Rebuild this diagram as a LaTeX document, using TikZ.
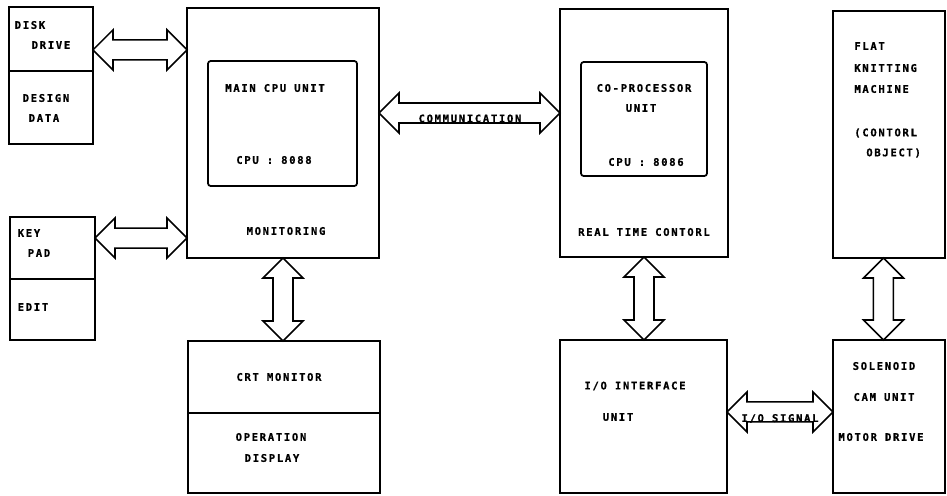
\documentclass[tikz,border=0pt]{standalone}
\usepackage{fontspec}
\usetikzlibrary{positioning,calc}
\newfontfamily\dotfont[LetterSpace=16,FakeBold=0.8]{DejaVu Sans Mono}

\tikzset{
  box/.style={draw, line width=1pt, outer sep=0pt, inner sep=0pt},
  unit/.style={box, rounded corners=1.5pt},
  lbl/.style={font=\dotfont\bfseries\fontsize{6}{7}\selectfont, inner sep=0pt},
  bus/.style={draw, line width=0.9pt, line join=miter, fill=white}
}

% wide double-headed bus, left tip to right tip
\newcommand{\hbus}[2]{%
  \draw[bus] (#1) -- ++(0.4cm,0.4cm) -- ++(0,-0.2cm) -- ($(#2)+(-0.4cm,0.2cm)$)
    -- ++(0,0.2cm) -- (#2) -- ++(-0.4cm,-0.4cm) -- ++(0,0.2cm)
    -- ($(#1)+(0.4cm,-0.2cm)$) -- ++(0,-0.2cm) -- cycle;}
% same, top tip to bottom tip
\newcommand{\vbus}[2]{%
  \draw[bus] (#1) -- ++(0.4cm,-0.4cm) -- ++(-0.2cm,0) -- ($(#2)+(0.2cm,0.4cm)$)
    -- ++(0.2cm,0) -- (#2) -- ++(-0.4cm,0.4cm) -- ++(0.2cm,0)
    -- ($(#1)+(-0.2cm,-0.4cm)$) -- ++(-0.2cm,0) -- cycle;}

\begin{document}
\begin{tikzpicture}[x=0.02cm, y=-0.02cm]
\useasboundingbox (0,0) rectangle (947,495);

% left column
\node[box, minimum width=1.68cm, minimum height=1.28cm] (drive) at (51,39) {};
\node[box, minimum width=1.68cm, minimum height=1.46cm, below=0pt of drive] (design) {};
\node[box, minimum width=1.7cm, minimum height=1.24cm] (keypad) at (52.5,248) {};
\node[box, minimum width=1.7cm, minimum height=1.22cm, below=0pt of keypad] (edit) {};
\node[lbl] (diskt) at (30,25) {DISK};
\node[lbl] (drivet) at (51,45) {DRIVE};
\node[lbl] (designt) at (46,98) {DESIGN};
\node[lbl] (datat) at (44,118) {DATA};
\node[lbl] (keyt) at (29,233) {KEY};
\node[lbl] (padt) at (39,253) {PAD};
\node[lbl] (editt) at (33,307) {EDIT};

% main cpu and crt
\node[box, minimum width=3.84cm, minimum height=5cm] (main) at (283,133) {};
\node[unit, minimum width=2.98cm, minimum height=2.5cm] (mainunit) at (282.5,123.5) {};
\node[lbl] (maint) at (275,88) {MAIN CPU UNIT};
\node[lbl] (maincpu) at (274,160) {CPU : 8088};
\node[lbl] (monit) at (286,231) {MONITORING};
\node[box, minimum width=3.84cm, minimum height=1.44cm] (crt) at (284,377) {};
\node[box, minimum width=3.84cm, minimum height=1.6cm, below=0pt of crt] (opdisp) {};
\node[lbl] (crtt) at (279,377) {CRT MONITOR};
\node[lbl] (opt) at (271,437) {OPERATION};
\node[lbl] (dispt) at (272,458) {DISPLAY};

% co-processor and i/o
\node[box, minimum width=3.36cm, minimum height=4.96cm] (coproc) at (644,133) {};
\node[unit, minimum width=2.52cm, minimum height=2.28cm] (counit) at (644,119) {};
\node[lbl] (cot) at (644,88) {CO-PROCESSOR};
\node[lbl] (counitt) at (641,108) {UNIT};
\node[lbl] (cocpu) at (646,162) {CPU : 8086};
\node[lbl] (realt) at (644,232) {REAL TIME CONTORL};
\node[box, minimum width=3.34cm, minimum height=3.06cm] (iface) at (643.5,416.5) {};
\node[lbl] (ifacet) at (635,386) {I/O INTERFACE};
\node[lbl] (ifunit) at (618,417) {UNIT};

% machine side
\node[box, minimum width=2.24cm, minimum height=4.94cm] (knitting) at (889,134.5) {};
\foreach \t/\y in {FLAT/46, KNITTING/68, MACHINE/89}
  \node[lbl, anchor=west] (knit\y) at (854,\y) {\t};
\node[lbl, anchor=west] (ctrlt) at (854,133) {(CONTORL};
\node[lbl, anchor=west] (objt) at (866,153) {OBJECT)};
\node[box, minimum width=2.24cm, minimum height=3.06cm] (solenoid) at (889,416.5) {};
\node[lbl] (solt) at (884,366) {SOLENOID};
\node[lbl] (camt) at (884,397) {CAM UNIT};
\node[lbl] (motort) at (881,437) {MOTOR DRIVE};

% buses
\coordinate (drivebus) at ($(drive.north east)!0.67!(drive.south east)$);
\coordinate (keybus) at ($(keypad.north east)!0.34!(keypad.south east)$);
\coordinate (commbus) at ($(main.north east)!0.42!(main.south east)$);
\coordinate (sigbus) at ($(iface.north east)!0.47!(iface.south east)$);
\coordinate (knitbus) at ($(knitting.south west)!0.45!(knitting.south east)$);
\hbus{drivebus}{main.west |- drivebus}
\hbus{keybus}{main.west |- keybus}
\hbus{commbus}{coproc.west |- commbus}
\hbus{sigbus}{solenoid.west |- sigbus}
\vbus{main.south}{crt.north -| main.south}
\vbus{coproc.south}{iface.north -| coproc.south}
\vbus{knitbus}{solenoid.north -| knitbus}
\node[lbl] (commt) at (470,118.5) {COMMUNICATION};
\node[lbl] (sigt) at (780,418.5) {I/O SIGNAL};
\end{tikzpicture}
\end{document}
